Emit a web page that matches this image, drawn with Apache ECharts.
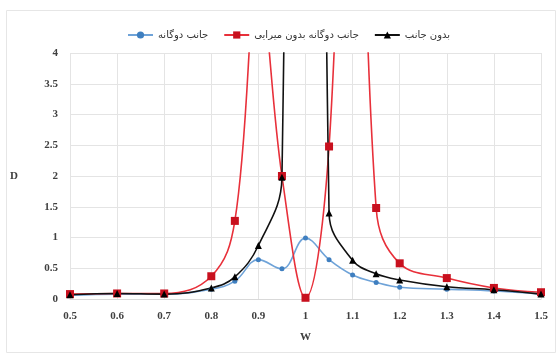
<!DOCTYPE html>
<html>
<head>
<meta charset="utf-8">
<script src="https://cdn.jsdelivr.net/npm/echarts@6/dist/echarts.min.js"></script>
<style>
  html, body { margin: 0; padding: 0; background: #fff; }
  #chart { width: 557px; height: 354px; }
</style>
</head>
<body>
<div id="chart"></div>
<script>
// frequency ratio W
const wValues = [0.5, 0.6, 0.7, 0.8, 0.85, 0.9, 0.95, 1.0, 1.05, 1.1, 1.15, 1.2, 1.3, 1.4, 1.5]
// D for each case (peaks above 4 are clipped by the axis)
const dualD = [0.06, 0.08, 0.08, 0.16, 0.29, 0.64, 0.49, 0.99, 0.64, 0.39, 0.27, 0.19, 0.16, 0.13, 0.08]
const undampedD = [0.08, 0.09, 0.09, 0.37, 1.27, 5.2, 2.0, 0.02, 2.48, 11.5, 1.48, 0.58, 0.34, 0.18, 0.11]
const noAbsorberD = [0.07, 0.09, 0.08, 0.18, 0.36, 0.87, 1.98, 50, 1.4, 0.63, 0.41, 0.31, 0.2, 0.15, 0.08]

const seriesNames = ['جانب دوگانه', 'جانب دوگانه بدون میرایی', 'بدون جانب']

const toPairs = (ys) => wValues.map((w, i) => [w, ys[i]])
const labelFont = { color: '#404040', fontSize: 11, fontWeight: 'bold', fontFamily: 'Liberation Serif' }

const chart = echarts.init(document.getElementById('chart'))
chart.setOption({
  animation: false,
  graphic: [{
    type: 'rect',
    shape: { x: 6.5, y: 10.5, width: 549, height: 342 },
    style: { fill: 'none', stroke: '#e6e6e6', lineWidth: 1 },
    silent: true
  }],
  legend: {
    data: seriesNames,
    left: 122,
    top: 25,
    itemWidth: 25,
    itemHeight: 9,
    itemGap: 15,
    textStyle: { color: '#333', fontSize: 10, fontFamily: 'DejaVu Sans' }
  },
  grid: {
    left: 70,
    right: 16,
    top: 53,
    bottom: 55
  },
  xAxis: {
    type: 'value',
    min: 0.5,
    max: 1.5,
    interval: 0.1,
    name: 'W',
    nameLocation: 'middle',
    nameGap: 33,
    nameTextStyle: labelFont,
    axisLine: { show: true, lineStyle: { color: '#d9d9d9' } },
    axisTick: { show: false },
    axisLabel: Object.assign({ margin: 12, formatter: (v) => String(Math.round(v * 10) / 10) }, labelFont),
    splitLine: { show: true, lineStyle: { color: '#e4e4e4' } }
  },
  yAxis: {
    type: 'value',
    min: 0,
    max: 4,
    interval: 0.5,
    name: 'D',
    nameLocation: 'middle',
    nameRotate: 0,
    nameGap: 52,
    nameTextStyle: labelFont,
    axisLine: { show: false },
    axisTick: { show: false },
    axisLabel: Object.assign({ margin: 12 }, labelFont),
    splitLine: { show: true, lineStyle: { color: '#e4e4e4' } }
  },
  series: [
    {
      name: seriesNames[0],
      type: 'line',
      data: toPairs(dualD),
      smooth: 0.4,
      symbol: 'circle',
      symbolSize: 5,
      lineStyle: { color: '#6fa3d8', width: 1.6 },
      itemStyle: { color: '#3f7fc0' }
    },
    {
      name: seriesNames[1],
      type: 'line',
      data: toPairs(undampedD),
      smooth: 0.4,
      symbol: 'rect',
      symbolSize: 8,
      lineStyle: { color: '#e8303a', width: 1.6 },
      itemStyle: { color: '#c8101e' }
    },
    {
      name: seriesNames[2],
      type: 'line',
      data: toPairs(noAbsorberD),
      smooth: 0.4,
      symbol: 'triangle',
      symbolSize: 7,
      lineStyle: { color: '#111', width: 1.6 },
      itemStyle: { color: '#000' }
    }
  ]
})
</script>
</body>
</html>
